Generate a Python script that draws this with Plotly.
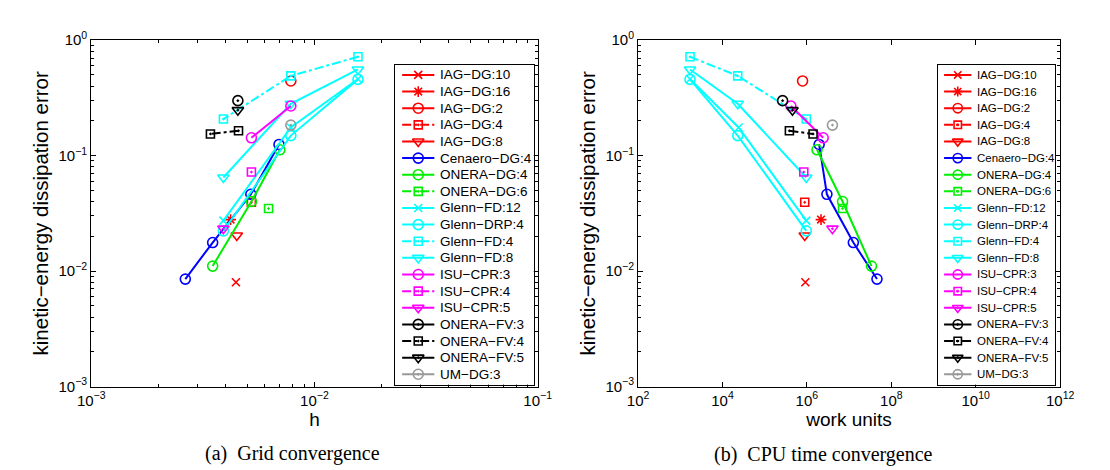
import plotly.graph_objects as go

# ---------------- data ----------------
IAG_DG10_h = [0.00445]; IAG_DG10_err = [0.0080]; IAG_DG10_work = [9.2e5]
IAG_DG16_h = [0.00421]; IAG_DG16_err = [0.0279]; IAG_DG16_work = [2.16e6]
IAG_DG2_h = [0.00784]; IAG_DG2_err = [0.443]; IAG_DG2_work = [7.9e5]
IAG_DG4_h = [0.00522]; IAG_DG4_err = [0.0394]; IAG_DG4_work = [8.9e5]
IAG_DG8_h = [0.00449]; IAG_DG8_err = [0.0203]; IAG_DG8_work = [8.9e5]
CEN_DG4_h = [0.00694, 0.00519, 0.00350, 0.00264]
CEN_DG4_err = [0.1249, 0.0462, 0.01766, 0.00852]
CEN_DG4_work = [1.95e6, 2.98e6, 1.26e7, 4.58e7]
ONERA_DG4_h = [0.00700, 0.00522, 0.00350]
ONERA_DG4_err = [0.1122, 0.0400, 0.01104]
ONERA_DG4_work = [1.74e6, 7.0e6, 3.39e7]
ONERA_DG6_h = [0.00623]; ONERA_DG6_err = [0.0348]; ONERA_DG6_work = [7.0e6]
GLENN_h = [0.01567, 0.00784, 0.00391]
GLENN_FD12_err = [0.46, 0.175, 0.0273]; GLENN_FD12_work = [1702, 24150, 9.66e5]
GLENN_DRP4_err = [0.457, 0.149, 0.0223]; GLENN_DRP4_work = [1702, 22970, 9.66e5]
GLENN_FD4_err = [0.717, 0.49, 0.2073]; GLENN_FD4_work = [1702, 22970, 9.66e5]
GLENN_FD8_err = [0.557, 0.281, 0.0646]; GLENN_FD8_work = [1702, 22970, 9.66e5]
ISU_CPR3_h = [0.00784, 0.00522]; ISU_CPR3_err = [0.2688, 0.1426]; ISU_CPR3_work = [4.18e5, 2.43e6]
ISU_CPR4_h = [0.00522]; ISU_CPR4_err = [0.072]; ISU_CPR4_work = [8.45e5]
ISU_CPR5_h = [0.00391]; ISU_CPR5_err = [0.0233]; ISU_CPR5_work = [4.03e6]
ONERA_FV3_h = [0.00454]; ONERA_FV3_err = [0.299]; ONERA_FV3_work = [2.66e5]
ONERA_FV4_h = [0.00457, 0.00342]; ONERA_FV4_err = [0.164, 0.154]; ONERA_FV4_work = [3.85e5, 1.40e6]
ONERA_FV5_h = [0.00454]; ONERA_FV5_err = [0.2474]; ONERA_FV5_work = [4.55e5]
UM_DG3_h = [0.00784]; UM_DG3_err = [0.1837]; UM_DG3_work = [4.03e6]

names = ["IAG−DG:10", "IAG−DG:16", "IAG−DG:2", "IAG−DG:4", "IAG−DG:8",
         "Cenaero−DG:4", "ONERA−DG:4", "ONERA−DG:6", "Glenn−FD:12", "Glenn−DRP:4",
         "Glenn−FD:4", "Glenn−FD:8", "ISU−CPR:3", "ISU−CPR:4", "ISU−CPR:5",
         "ONERA−FV:3", "ONERA−FV:4", "ONERA−FV:5", "UM−DG:3"]

series_h = [IAG_DG10_h, IAG_DG16_h, IAG_DG2_h, IAG_DG4_h, IAG_DG8_h,
            CEN_DG4_h, ONERA_DG4_h, ONERA_DG6_h, GLENN_h, GLENN_h,
            GLENN_h, GLENN_h, ISU_CPR3_h, ISU_CPR4_h, ISU_CPR5_h,
            ONERA_FV3_h, ONERA_FV4_h, ONERA_FV5_h, UM_DG3_h]
series_err = [IAG_DG10_err, IAG_DG16_err, IAG_DG2_err, IAG_DG4_err, IAG_DG8_err,
              CEN_DG4_err, ONERA_DG4_err, ONERA_DG6_err, GLENN_FD12_err, GLENN_DRP4_err,
              GLENN_FD4_err, GLENN_FD8_err, ISU_CPR3_err, ISU_CPR4_err, ISU_CPR5_err,
              ONERA_FV3_err, ONERA_FV4_err, ONERA_FV5_err, UM_DG3_err]
series_work = [IAG_DG10_work, IAG_DG16_work, IAG_DG2_work, IAG_DG4_work, IAG_DG8_work,
               CEN_DG4_work, ONERA_DG4_work, ONERA_DG6_work, GLENN_FD12_work, GLENN_DRP4_work,
               GLENN_FD4_work, GLENN_FD8_work, ISU_CPR3_work, ISU_CPR4_work, ISU_CPR5_work,
               ONERA_FV3_work, ONERA_FV4_work, ONERA_FV5_work, UM_DG3_work]

x_left_ticks = [1e-3, 1e-2, 1e-1]
x_left_labels = ["10<sup>−3</sup>", "10<sup>−2</sup>", "10<sup>−1</sup>"]
x_right_ticks = [1e2, 1e4, 1e6, 1e8, 1e10, 1e12]
x_right_labels = ["10<sup>2</sup>", "10<sup>4</sup>", "10<sup>6</sup>", "10<sup>8</sup>",
                  "10<sup>10</sup>", "10<sup>12</sup>"]
y_ticks = [1e-3, 1e-2, 1e-1, 1]
y_labels = ["10<sup>−3</sup>", "10<sup>−2</sup>", "10<sup>−1</sup>", "10<sup>0</sup>"]

# ---------------- styles ----------------
RED, BLUE, GREEN, CYAN, MAG, BLK, GRY = "#ff0000", "#0000ff", "#00ee00", "#00ffff", "#ff00ff", "#000000", "#999999"
colors = [RED, RED, RED, RED, RED, BLUE, GREEN, GREEN, CYAN, CYAN, CYAN, CYAN,
          MAG, MAG, MAG, BLK, BLK, BLK, GRY]
symbols = ["x-thin-open", "asterisk-open", "circle-open", "square-open-dot", "triangle-down-open",
           "circle-open", "circle-open", "square-open-dot", "x-thin-open", "circle-open",
           "square-open-dot", "triangle-down-open", "circle-open", "square-open-dot", "triangle-down-open-dot",
           "circle-open-dot", "square-open-dot", "triangle-down-open-dot", "circle-open-dot"]
dashes = ["solid", "solid", "solid", "dashdot", "solid", "solid", "solid", "dashdot", "solid", "solid",
          "dashdot", "solid", "solid", "dashdot", "solid", "solid", "dashdot", "solid", "solid"]
sizes = {"x-thin-open": 8, "asterisk-open": 9, "circle-open": 10, "circle-open-dot": 10,
         "square-open-dot": 8, "triangle-down-open": 10, "triangle-down-open-dot": 10}

W, H = 1110, 470
def px(x): return x / W
def py(y): return 1 - y / H

FONT = "Liberation Sans, Arial, Helvetica, sans-serif"
SERIF = "Liberation Serif, Times New Roman, serif"

fig = go.Figure()

# data traces
for i, nm in enumerate(names):
    for xs, xa, ya in [(series_h[i], "x", "y"), (series_work[i], "x2", "y2")]:
        fig.add_trace(go.Scatter(
            x=xs, y=series_err[i], name=nm, mode="lines+markers", showlegend=False,
            xaxis=xa, yaxis=ya,
            line=dict(color=colors[i], width=2, dash=dashes[i]),
            marker=dict(symbol=symbols[i], size=sizes[symbols[i]], color=colors[i],
                        line=dict(color=colors[i], width=1.6)),
        ))

# legend boxes (drawn as small axes in pixel units, one row per series)
LEG_TOP, LEG_BOTTOM = 48, 381
LEG_ROW0, LEG_STEP = 10.3, 17.33
# (xaxis, yaxis, left, right, scale)
legend_boxes = [("x3", "y3", 383, 525, 1.0), ("x4", "y4", 940, 1060, 0.85)]
annotations = []
for xa, ya, x0, x1, s in legend_boxes:
    for i, nm in enumerate(names):
        yi = LEG_TOP + LEG_ROW0 + LEG_STEP * i
        fig.add_trace(go.Scatter(
            x=[x0 + 7 * s, x0 + 40 * s], y=[yi, yi], mode="lines", xaxis=xa, yaxis=ya,
            showlegend=False, hoverinfo="skip",
            line=dict(color=colors[i], width=2, dash=dashes[i])))
        fig.add_trace(go.Scatter(
            x=[x0 + 23.5 * s], y=[yi], mode="markers", xaxis=xa, yaxis=ya,
            showlegend=False, hoverinfo="skip",
            marker=dict(symbol=symbols[i], size=sizes[symbols[i]] * (0.5 + 0.5 * s), color=colors[i],
                        line=dict(color=colors[i], width=1.6))))
        annotations.append(dict(text=nm, x=x0 + 44 * s, y=yi, xref=xa, yref=ya, xanchor="left",
                                yanchor="middle", showarrow=False,
                                font=dict(family=FONT, size=13.5 * s, color="black")))

axis_common = dict(type="log", showline=True, linecolor="black", linewidth=1, mirror="allticks",
                   ticks="inside", ticklen=5, tickcolor="black", tickwidth=1, showgrid=False,
                   zeroline=False, tickfont=dict(family=FONT, size=15, color="black"))

def minors(lo, hi):
    out = []
    for e in range(lo, hi):
        for m in range(2, 10):
            out.append(m * 10 ** e)
    return out

minor_style = dict(ticks="inside", ticklen=3, tickcolor="black", tickwidth=1, showgrid=False)
title_font = dict(size=19, family=FONT, color="black")
ytitle_font = dict(size=20.5, family=FONT, color="black")
YTITLE = "kinetic−energy dissipation error"

leg_axis = dict(showline=True, linecolor="black", linewidth=1, mirror=True, showgrid=False,
                zeroline=False, showticklabels=False, ticks="", fixedrange=True)

fig.update_layout(
    width=W, height=H, margin=dict(l=0, r=0, t=0, b=0),
    paper_bgcolor="white", plot_bgcolor="white",
    font=dict(family=FONT, color="black"),
    showlegend=False,
    xaxis=dict(**axis_common, domain=[px(71), px(529)], anchor="y", range=[-3, -1],
               tickvals=x_left_ticks, ticktext=x_left_labels,
               minor=dict(**minor_style, tickvals=minors(-3, -1)),
               title=dict(text="h", font=title_font, standoff=2)),
    yaxis=dict(**axis_common, domain=[py(383), py(22)], anchor="x", range=[-3, 0],
               tickvals=y_ticks, ticktext=y_labels,
               minor=dict(**minor_style, tickvals=minors(-3, 0)),
               title=dict(text=YTITLE, font=ytitle_font, standoff=4)),
    xaxis2=dict(**axis_common, domain=[px(632), px(1065)], anchor="y2", range=[2, 12],
                tickvals=x_right_ticks, ticktext=x_right_labels,
                title=dict(text="work units", font=title_font, standoff=2)),
    yaxis2=dict(**axis_common, domain=[py(383), py(22)], anchor="x2", range=[-3, 0],
                tickvals=y_ticks, ticktext=y_labels,
                minor=dict(**minor_style, tickvals=minors(-3, 0)),
                title=dict(text=YTITLE, font=ytitle_font, standoff=4)),
    xaxis3=dict(**leg_axis, domain=[px(383), px(525)], anchor="y3", range=[383, 525]),
    yaxis3=dict(**leg_axis, domain=[py(LEG_BOTTOM), py(LEG_TOP)], anchor="x3",
                range=[LEG_BOTTOM, LEG_TOP]),
    xaxis4=dict(**leg_axis, domain=[px(940), px(1060)], anchor="y4", range=[940, 1060]),
    yaxis4=dict(**leg_axis, domain=[py(LEG_BOTTOM), py(LEG_TOP)], anchor="x4",
                range=[LEG_BOTTOM, LEG_TOP]),
    annotations=annotations + [
        dict(text="(a)  Grid convergence", x=px(277), y=py(453), xref="paper", yref="paper",
             xanchor="center", yanchor="middle",
             showarrow=False, font=dict(family=SERIF, size=20, color="black")),
        dict(text="(b)  CPU time convergence", x=px(822), y=py(454), xref="paper", yref="paper",
             xanchor="center", yanchor="middle",
             showarrow=False, font=dict(family=SERIF, size=20, color="black")),
    ],
)

fig.write_html("out.html")
